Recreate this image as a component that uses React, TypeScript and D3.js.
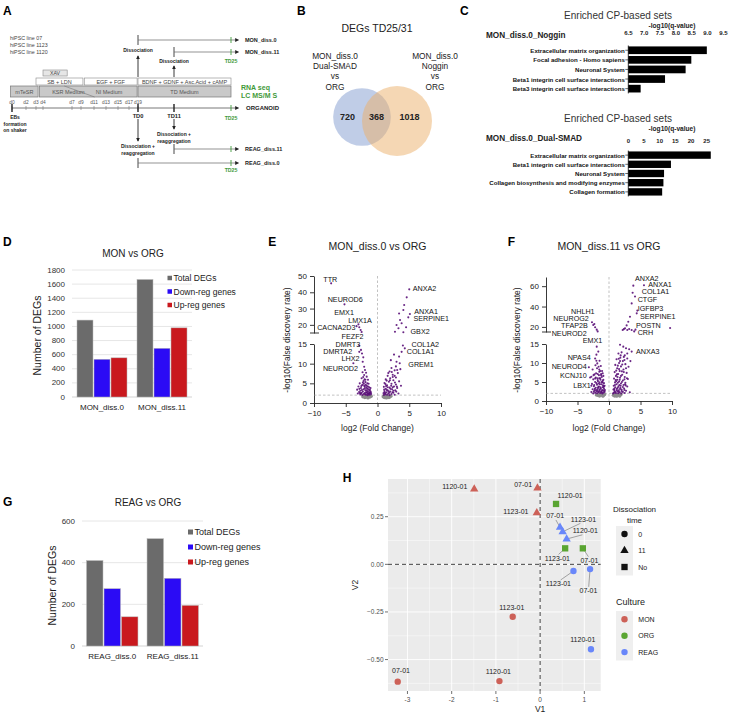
import React, { useEffect, useRef } from 'react';
import * as d3 from 'd3';

const FONT = '"Liberation Sans", Arial, Helvetica, sans-serif';

// ---------- A: protocol
const hipscLines = ['hiPSC line 07', 'hiPSC line 1123', 'hiPSC line 1120'];
const dayLabels = ['d0', 'd2', 'd3', 'd4', 'd7', 'd9', 'd11', 'd13', 'd15', 'd17', 'd19'];
const dayValues = [0, 2, 3, 4, 7, 9, 11, 13, 15, 17, 19];
const timeDomain = [0, 2, 3, 4, 7, 9, 11, 13, 15, 17, 19, 30, 44, 48];
const timeRange = [12, 26, 36, 43, 72, 81, 94, 106, 118, 129, 138, 174, 231, 241];
const mediaTop = [['SB + LDN', 3, 9.3], ['EGF + FGF', 9.5, 18.8], ['BDNF + GDNF + Asc.Acid + cAMP', 19, 44]];
const mediaBottom = [['mTeSR', -0.2, 3.3], ['', 3.5, 18.8], ['TD   Medium', 19, 44]];
const branchNames = ['MON_diss.0', 'MON_diss.11', 'REAG_diss.11', 'REAG_diss.0'];
const branchStart = [19, 30, 30, 19];
const branchRows = [40, 52, 149, 163];

// ---------- B: venn
const vennLeft = 720;
const vennBoth = 368;
const vennRight = 1018;

// ---------- C: enriched sets
const nogSets = ['Extracellular matrix organization', 'Focal adhesion - Homo sapiens', 'Neuronal System', 'Beta1 integrin cell surface interactions', 'Beta3 integrin cell surface interactions'];
const nogVals = [8.98, 8.49, 8.31, 7.66, 6.89];
const nogTicks = [6.5, 7, 7.5, 8, 8.5, 9, 9.5];
const dualSets = ['Extracellular matrix organization', 'Beta1 integrin cell surface interactions', 'Neuronal System', 'Collagen biosynthesis and modifying enzymes', 'Collagen formation'];
const dualVals = [26.3, 13.6, 11.4, 11.2, 10.8];
const dualTicks = [0, 5, 10, 15, 20, 25];

// ---------- D / G: DEG counts
const degSeries = ['Total DEGs', 'Down-reg genes', 'Up-reg genes'];
const degColors = ['#6b6b6b', '#2b0bf5', '#c9191e'];
const monGroups = ['MON_diss.0', 'MON_diss.11'];
const monTotal = [1090, 1665];
const monDown = [535, 690];
const monUp = [555, 980];
const monTicks = [0, 200, 400, 600, 800, 1000, 1200, 1400, 1600, 1800];
const reagGroups = ['REAG_diss.0', 'REAG_diss.11'];
const reagTotal = [410, 515];
const reagDown = [275, 325];
const reagUp = [140, 195];
const reagTicks = [0, 200, 400, 600];

// ---------- E: volcano MON_diss.0 vs ORG  [log2FC, -log10 FDR]
const eSig = [
  [-7.3, 45.5], [-5.2, 32.6], [-3.0, 20.3], [-2.87, 18.5], [-2.65, 16.8], [-2.5, 15.6], [-3.3, 19.2],
  [-2.87, 14.6], [-2.6, 13.5], [-2.87, 13.0], [-2.44, 12.6], [-2.24, 11.6], [-2.33, 10.5], [-3.8, 10.1], [-2.1, 9.2],
  [-1.97, 8.4], [-1.8, 7.7], [-2.1, 7.1], [-1.7, 6.7], [-2.5, 6.3], [-1.5, 5.9], [-2.2, 5.6], [-1.9, 5.3], [-2.8, 5.0],
  [-1.4, 4.9], [-2.4, 4.6], [-1.7, 4.4], [-3.0, 4.2], [-2.0, 4.1], [-1.3, 4.0], [-2.6, 3.8], [-1.6, 3.7], [-2.2, 3.5],
  [-3.2, 3.4], [-1.2, 3.4], [-1.9, 3.2], [-2.7, 3.1], [-1.5, 3.0], [-2.3, 2.9], [-1.1, 2.9], [-2.9, 2.8], [-1.8, 2.7],
  [-1.3, 2.6], [-2.5, 2.6], [-2.0, 2.5], [-1.6, 2.4], [-3.1, 2.4], [-1.0, 2.3], [-2.2, 2.3], [-1.4, 2.2], [-2.7, 2.2],
  [-1.8, 2.1], [-1.2, 2.1], [-2.4, 2.05], [-1.55, 2.0], [-2.05, 6.0], [-1.6, 5.0], [-2.35, 7.8], [-1.45, 3.5],
  [-1.15, 2.5], [-2.15, 4.9], [-1.75, 3.9],
  [-1.35, 2.45], [-1.65, 2.75], [-2.45, 3.3], [-1.05, 2.65], [-2.85, 3.6], [-1.85, 4.6], [-2.55, 4.3], [-1.25, 3.1],
  [-2.0, 3.7], [-1.5, 4.2], [-2.3, 5.2], [-1.95, 2.2], [-1.7, 3.2], [-2.6, 2.4], [-1.1, 3.8], [-2.1, 4.4], [-1.45, 2.35],
  [-2.75, 2.5], [-1.9, 5.9], [-2.25, 6.6],
  [5.0, 41.8], [4.6, 36.9], [4.2, 32.2], [4.07, 29.1], [5.1, 26.7], [4.85, 24.6], [3.55, 23.0], [3.8, 21.0], [3.0, 19.9],
  [3.3, 17.9], [2.75, 15.8], [4.07, 15.5], [4.5, 18.5], [3.4, 27.0],
  [4.0, 14.6], [4.3, 13.9], [3.8, 13.0], [3.4, 11.8], [3.0, 10.5], [3.5, 10.1], [2.6, 12.3], [2.9, 9.3], [2.2, 8.9],
  [2.7, 8.3], [1.9, 8.0], [3.2, 7.6], [2.4, 7.2], [1.6, 6.9], [2.9, 6.5], [2.0, 6.3], [1.3, 6.0], [2.5, 5.8], [3.4, 5.5],
  [1.8, 5.4], [1.1, 5.1], [2.2, 4.9], [2.9, 4.7], [1.5, 4.5], [2.6, 4.2], [1.0, 4.1], [1.9, 3.9], [3.1, 3.8], [1.3, 3.6],
  [2.3, 3.5], [1.6, 3.2], [2.8, 3.2], [1.1, 3.0], [2.0, 2.9], [1.4, 2.7], [2.5, 2.6], [0.95, 2.5], [1.7, 2.4], [2.2, 2.3],
  [1.2, 2.2], [3.3, 2.4], [1.5, 2.1], [2.7, 2.1], [1.0, 2.05], [1.9, 2.0], [2.1, 10.9], [1.7, 7.6], [3.6, 8.6], [2.4, 4.0],
  [3.7, 4.4], [1.25, 4.8], [2.75, 5.2],
  [1.45, 3.3], [2.05, 3.6], [1.15, 2.6], [2.35, 2.75], [1.75, 3.0], [2.95, 2.9], [1.05, 3.4], [1.6, 4.0], [2.15, 4.4],
  [1.35, 4.3], [2.5, 3.1], [1.85, 2.6], [3.05, 4.2], [1.95, 5.8], [2.4, 6.6], [1.45, 5.7], [2.7, 6.9], [2.25, 7.9],
  [3.1, 8.4], [1.2, 2.4],
];
const eNs = [
  [-2.3, 1.6], [-2.0, 1.4], [-1.8, 1.7], [-1.6, 1.5], [-1.4, 1.8], [-1.2, 1.5], [-1.0, 1.7], [-2.1, 1.8], [-1.5, 1.3], [-1.9, 1.5],
  [0.9, 1.6], [1.1, 1.4], [1.3, 1.7], [1.5, 1.5], [1.7, 1.8], [1.9, 1.5], [2.1, 1.7], [1.0, 1.8], [1.4, 1.3], [1.8, 1.4],
];
const eLabels = [
  ['TTR', -8.54, 47.9, 1], ['NEUROD6', -7.85, 35.7, 1], ['EMX1', -6.8, 27.5, 1], ['LMX1A', -4.6, 22.8, 1],
  ['CACNA2D3', -9.5, 18.3, 1], ['FEZF2', -5.65, 16.9, 0], ['DMRT3', -6.6, 15.0, 0], ['DMRTA2', -8.54, 13.05, 0],
  ['LHX2', -5.65, 11.4, 0], ['NEUROD2', -8.6, 8.8, 0], ['ANXA2', 5.55, 42.4, 1], ['ANXA1', 5.8, 28.2, 1],
  ['SERPINE1', 5.65, 23.6, 1], ['GBX2', 5.2, 15.8, 1], ['COL1A2', 5.35, 15.0, 0], ['COL1A1', 4.6, 13.1, 0],
  ['GREM1', 4.85, 9.9, 0],
];

// ---------- F: volcano MON_diss.11 vs ORG
const fSig = [
  [-2.5, 21.8], [-2.2, 19.6], [-2.33, 22.8], [-1.95, 17.3], [-2.7, 24.5], [-1.8, 15.6],
  [-1.95, 14.3], [-1.7, 13.0], [-2.2, 11.2], [-1.86, 9.9], [-2.6, 8.3], [-1.54, 7.7], [-2.0, 12.2], [-1.5, 10.6],
  [-2.3, 7.0], [-1.3, 9.2], [-1.9, 8.6], [-2.8, 6.4], [-1.1, 7.9], [-1.6, 6.8], [-2.1, 6.2], [-0.9, 6.6], [-1.4, 6.0],
  [-2.5, 5.7], [-1.8, 5.5], [-1.0, 5.3], [-2.2, 5.0], [-1.5, 4.9], [-0.8, 4.7], [-2.7, 4.5], [-1.2, 4.4], [-1.9, 4.3],
  [-0.7, 4.0], [-2.4, 3.9], [-1.6, 3.8], [-1.0, 3.6], [-2.1, 3.5], [-1.3, 3.3], [-0.8, 3.2], [-2.6, 3.1], [-1.8, 3.0],
  [-1.1, 2.9], [-2.3, 2.8], [-1.5, 2.7], [-0.75, 2.6], [-2.0, 2.5], [-1.25, 2.4], [-2.8, 2.35], [-1.7, 2.3], [-0.9, 2.2],
  [-2.2, 2.15], [-1.4, 2.1], [-1.9, 2.05], [-1.05, 2.0], [-2.5, 2.0], [-1.65, 4.6], [-1.35, 5.6], [-2.35, 4.2],
  [-0.95, 4.1], [-1.75, 3.4], [-1.15, 6.3], [-1.55, 8.3], [-2.05, 7.3], [-0.85, 3.7], [-1.45, 3.1], [-2.15, 9.4],
  [-1.25, 7.1], [-1.85, 6.0], [-0.65, 2.9], [-1.05, 4.9], [-2.45, 6.8], [-3.2, 8.9], [-3.0, 6.2], [-2.8, 4.0],
  [-1.2, 2.55], [-1.6, 2.45], [-2.05, 2.85], [-0.95, 2.75], [-1.35, 3.6], [-1.7, 3.65], [-2.25, 3.2], [-0.8, 3.9],
  [-1.45, 4.4], [-2.0, 4.7], [-1.15, 5.0], [-1.75, 5.2], [-0.9, 5.6], [-1.55, 6.0], [-2.2, 5.9], [-1.25, 6.8],
  [-1.8, 7.1], [-1.0, 7.3], [-1.65, 9.0], [-1.4, 7.9], [-2.0, 10.6], [-1.15, 2.25], [-1.8, 2.65], [-2.4, 2.5], [-0.7, 2.4],
  [3.86, 60.5], [5.55, 60.9], [4.13, 49.8], [3.6, 43.1], [4.4, 33.3], [3.33, 29.9], [3.06, 25.0], [2.54, 18.6],
  [2.17, 16.9], [2.9, 16.9], [3.6, 16.9], [4.0, 15.6], [9.7, 18.9], [3.75, 53.5], [4.5, 36.0], [2.8, 21.5], [3.2, 18.0],
  [2.35, 17.8], [4.2, 17.3],
  [1.75, 14.8], [2.27, 14.3], [2.7, 13.9], [3.2, 13.6], [3.6, 13.0], [2.0, 12.8], [1.5, 12.5], [2.5, 12.0], [1.8, 11.4],
  [2.9, 11.2], [1.2, 11.0], [2.2, 10.5], [1.6, 10.0], [2.6, 9.7], [1.0, 9.5], [1.9, 9.1], [3.1, 9.0], [1.3, 8.6],
  [2.3, 8.3], [1.7, 7.9], [0.9, 7.6], [2.8, 7.4], [1.45, 7.1], [2.1, 6.9], [1.1, 6.6], [2.5, 6.3], [1.75, 6.1], [0.8, 5.9],
  [3.0, 5.8], [1.3, 5.6], [2.2, 5.4], [1.6, 5.1], [0.95, 4.9], [2.6, 4.8], [1.9, 4.6], [1.2, 4.4], [2.3, 4.2], [0.75, 4.0],
  [1.5, 3.9], [2.9, 3.8], [1.0, 3.6], [1.8, 3.5], [2.4, 3.3], [1.25, 3.2], [0.7, 3.0], [2.0, 3.0], [1.55, 2.8], [2.7, 2.7],
  [0.9, 2.6], [1.35, 2.5], [2.2, 2.4], [1.7, 2.3], [0.8, 2.2], [3.3, 2.3], [1.1, 2.1], [2.5, 2.1], [1.45, 2.05], [1.95, 2.0],
  [0.65, 2.0], [2.05, 7.8], [1.4, 9.3], [2.45, 10.8], [1.15, 5.2], [1.65, 4.2], [2.85, 6.0], [1.85, 12.0], [0.85, 3.3],
  [1.35, 6.3], [3.4, 10.5], [2.65, 4.1],
  [1.0, 2.35], [1.55, 2.45], [2.0, 2.65], [1.25, 2.8], [2.45, 2.9], [0.85, 3.0], [1.75, 3.15], [2.2, 3.7], [1.4, 3.5],
  [0.95, 4.2], [1.85, 4.0], [2.55, 4.4], [1.4, 4.8], [2.05, 5.0], [1.05, 5.5], [1.7, 5.6], [2.45, 5.7], [1.25, 7.0],
  [1.9, 6.6], [2.35, 7.6], [1.6, 8.4], [2.7, 8.6], [1.15, 8.0], [2.1, 9.6], [1.75, 10.5], [2.35, 11.6], [1.55, 11.1],
  [2.9, 12.5],
];
const fNs = [
  [-1.8, 1.5], [-1.5, 1.3], [-1.2, 1.6], [-0.9, 1.4], [-0.7, 1.7], [-1.6, 1.8], [-1.0, 1.3], [-1.3, 1.8], [-2.0, 1.6],
  [0.7, 1.5], [0.9, 1.3], [1.1, 1.7], [1.3, 1.4], [1.5, 1.6], [1.7, 1.3], [1.9, 1.7], [0.8, 1.8], [1.2, 1.3], [1.6, 1.8],
];
const fLabels = [
  ['NHLH1', -6.03, 35.5, 1], ['NEUROG2', -8.84, 28.4, 1], ['TFAP2B', -7.6, 21.4, 1], ['NEUROD2', -9.1, 13.5, 1],
  ['EMX1', -4.17, 15.8, 0], ['NPAS4', -6.56, 11.5, 0], ['NEUROD4', -9.1, 9.0, 0], ['KCNJ10', -7.78, 6.66, 0],
  ['LBX1', -5.67, 4.2, 0], ['ANXA2', 4.13, 67.4, 1], ['ANXA1', 6.24, 61.8, 1], ['COL1A1', 5.19, 54.3, 1],
  ['CTGF', 4.55, 46.9, 1], ['IGFBP3', 4.55, 38.1, 1], ['SERPINE1', 4.92, 29.9, 1], ['POSTN', 4.29, 21.8, 1],
  ['CRH', 4.55, 14.3, 1], ['ANXA3', 4.29, 13.0, 0],
];

// ---------- H: MDS
const hCulture = ['MON', 'MON', 'MON', 'ORG', 'REAG', 'REAG', 'REAG', 'ORG', 'ORG', 'REAG', 'REAG', 'MON', 'REAG', 'MON', 'MON'];
const hDiss = ['11', '11', '11', 'No', '11', '11', '11', 'No', 'No', '0', '0', '0', '0', '0', '0'];
const hV1 = [-1.49, -0.06, -0.075, 0.36, 0.45, 0.51, 0.6, 0.566, 0.966, 0.754, 1.13, -0.62, 1.15, -0.92, -3.22];
const hV2 = [0.395, 0.4, 0.27, 0.317, 0.194, 0.171, 0.133, 0.084, 0.084, -0.035, -0.025, -0.275, -0.446, -0.613, -0.616];
const hName = ['1120-01', '07-01', '1123-01', '1120-01', '07-01', '1123-01', '1120-01', '1123-01', '07-01', '1123-01', '07-01', '1123-01', '1120-01', '1120-01', '07-01'];
const hLabV1 = [-1.93, -0.385, -0.547, 0.68, 0.34, 0.98, 1.02, 0.39, 1.115, 0.414, 1.093, -0.64, 0.966, -0.943, -3.145];
const hLabV2 = [0.407, 0.42, 0.276, 0.364, 0.254, 0.236, 0.176, 0.031, 0.019, -0.103, -0.139, -0.228, -0.394, -0.56, -0.555];
const hLeader = [0, 0, 0, 0, 1, 1, 1, 1, 1, 1, 1, 0, 0, 0, 0];
const cultures = ['MON', 'ORG', 'REAG'];
const cultureColors = ['#cd6158', '#5aa532', '#6987fa'];
const dissLevels = ['0', '11', 'No'];
const hXTicks = [-3, -2, -1, 0, 1];
const hXMinor = [-2.5, -1.5, -0.5, 0.5];
const hYTicks = [-0.5, -0.25, 0, 0.25];
const hYMinor = [-0.625, -0.375, -0.125, 0.125, 0.375];

function addText(g: any, x: number, y: number, s: string, o: any = {}) {
  const t = g.append('text')
    .attr('x', x)
    .attr('y', y)
    .attr('font-size', o.size ?? 6)
    .attr('font-family', FONT)
    .attr('text-anchor', o.anchor ?? 'start')
    .attr('dominant-baseline', 'central')
    .attr('fill', o.color ?? '#222')
    .text(s);
  if (o.bold) t.attr('font-weight', 'bold');
  if (o.rotate) t.attr('transform', `rotate(${o.rotate},${x},${y})`);
  return t;
}

function line(g: any, x1: number, y1: number, x2: number, y2: number, stroke = '#333', w = 0.8) {
  return g.append('line').attr('x1', x1).attr('y1', y1).attr('x2', x2).attr('y2', y2)
    .attr('stroke', stroke).attr('stroke-width', w);
}

function drawProtocol(g: any) {
  const xd = d3.scaleLinear().domain(timeDomain).range(timeRange);
  const green = '#3f9a3a';
  addText(g, 3, 11, 'A', { size: 12, bold: true, color: '#000' });
  hipscLines.forEach((s, i) => addText(g, 10, 38 + i * 7, s, { size: 5.3, color: '#444' }));

  // media boxes
  g.append('rect').attr('x', xd(4)).attr('y', 70).attr('width', xd(6.5) - xd(4)).attr('height', 6)
    .attr('fill', '#e6e6e6').attr('stroke', '#888').attr('stroke-width', 0.6);
  addText(g, (xd(4) + xd(6.5)) / 2, 73, 'XAV', { size: 5.2, anchor: 'middle', color: '#444' });
  mediaTop.forEach(([s, a, b]: any) => {
    g.append('rect').attr('x', xd(a)).attr('y', 78).attr('width', xd(b) - xd(a)).attr('height', 7)
      .attr('fill', '#fff').attr('stroke', '#888').attr('stroke-width', 0.6);
    addText(g, (xd(a) + xd(b)) / 2, 81.5, s, { size: 5.5, anchor: 'middle', color: '#444' });
  });
  mediaBottom.forEach(([s, a, b]: any) => {
    g.append('rect').attr('x', xd(a)).attr('y', 86).attr('width', xd(b) - xd(a)).attr('height', 11)
      .attr('fill', '#c9c9c9').attr('stroke', '#777').attr('stroke-width', 0.7);
    if (s) addText(g, (xd(a) + xd(b)) / 2, 91.5, s, { size: 5.5, anchor: 'middle', color: '#555' });
  });
  line(g, xd(6.2), 86, xd(11.1), 97, '#777', 0.6);
  addText(g, xd(7.3) - 5, 91.5, 'KSR Medium', { size: 5.5, anchor: 'middle', color: '#555' });
  addText(g, xd(13.5), 91.5, 'NI Medium', { size: 5.5, anchor: 'middle', color: '#555' });
  addText(g, 241, 87, 'RNA seq', { size: 7, bold: true, color: green });
  addText(g, 241, 95, 'LC MS/M S', { size: 7, bold: true, color: green });

  // timeline
  line(g, xd(0), 108, xd(47), 108, '#555', 0.8).attr('marker-end', 'url(#arr)');
  dayValues.forEach((d, i) => {
    line(g, xd(d), 106, xd(d), 110, '#777', 0.6);
    addText(g, xd(d), 102, dayLabels[i], { size: 4.8, anchor: 'middle', color: '#555' });
  });
  [0, 19, 30].forEach(d => line(g, xd(d), 104, xd(d), 112, '#222', 1.4));
  line(g, xd(44), 105, xd(44), 111, green, 0.9);
  addText(g, 246, 108, 'ORGANOID', { size: 6, bold: true });
  ['EBs', 'formation', 'on shaker'].forEach((s, i) => addText(g, 15, 117 + i * 6.5, s, { size: 5, bold: true, anchor: 'middle' }));
  addText(g, xd(19), 116, 'TD0', { size: 5.7, bold: true, anchor: 'middle' });
  addText(g, xd(30), 116, 'TD11', { size: 5.7, bold: true, anchor: 'middle' });
  addText(g, xd(44), 118, 'TD25', { size: 5.2, bold: true, anchor: 'middle', color: green });

  // dissociation arrows
  line(g, xd(19), 77, xd(19), 56, '#222', 0.9).attr('marker-end', 'url(#arr)');
  addText(g, xd(19), 50, 'Dissociation', { size: 5, bold: true, anchor: 'middle' });
  line(g, xd(30), 77, xd(30), 66, '#222', 0.9).attr('marker-end', 'url(#arr)');
  addText(g, xd(30), 61, 'Dissociation', { size: 5, bold: true, anchor: 'middle' });
  line(g, xd(30), 119, xd(30), 129, '#222', 0.9).attr('marker-end', 'url(#arr)');
  addText(g, xd(30), 134, 'Dissociation +', { size: 5, bold: true, anchor: 'middle' });
  addText(g, xd(30), 140.5, 'reaggregation', { size: 5, bold: true, anchor: 'middle' });
  line(g, xd(19), 119, xd(19), 141, '#222', 0.9).attr('marker-end', 'url(#arr)');
  addText(g, xd(19), 146, 'Dissociation +', { size: 5, bold: true, anchor: 'middle' });
  addText(g, xd(19), 152.5, 'reaggregation', { size: 5, bold: true, anchor: 'middle' });

  // branches
  branchNames.forEach((s, i) => {
    const y = branchRows[i];
    const x0 = xd(branchStart[i]);
    line(g, x0, y - 5, x0, y + 5, '#333', 0.9);
    line(g, x0, y, xd(47), y, '#666', 0.7).attr('marker-end', 'url(#arr)');
    line(g, xd(44), y - 3, xd(44), y + 3, green, 0.9);
    addText(g, 245, y, s, { size: 5.5, bold: true });
  });
  addText(g, xd(44), 61, 'TD25', { size: 5.2, bold: true, anchor: 'middle', color: green });
  addText(g, xd(44), 170, 'TD25', { size: 5.2, bold: true, anchor: 'middle', color: green });
}

function drawVenn(g: any) {
  addText(g, 297, 11, 'B', { size: 12, bold: true, color: '#000' });
  addText(g, 377, 28, 'DEGs TD25/31', { size: 10.5, anchor: 'middle' });
  ['MON_diss.0', 'Dual-SMAD', 'vs', 'ORG'].forEach((s, i) => addText(g, 335, 55.5 + i * 10.4, s, { size: 8.3, anchor: 'middle' }));
  ['MON_diss.0', 'Noggin', 'vs', 'ORG'].forEach((s, i) => addText(g, 435, 55.5 + i * 10.4, s, { size: 8.3, anchor: 'middle' }));
  const r = d3.scaleSqrt().domain([0, vennBoth + vennRight]).range([0, 35]);
  const rl = r(vennLeft + vennBoth) * 0.93;
  const rr = r(vennBoth + vennRight);
  const cl = [362, 117];
  const cr = [397, 121];
  g.append('circle').attr('cx', cl[0]).attr('cy', cl[1]).attr('r', rl).attr('fill', '#7391c9').attr('opacity', 0.45);
  g.append('circle').attr('cx', cr[0]).attr('cy', cr[1]).attr('r', rr).attr('fill', '#ebaf69').attr('opacity', 0.5);
  const yc = 117;
  addText(g, (cl[0] - rl + cr[0] - rr) / 2, yc, String(vennLeft), { size: 9, bold: true, anchor: 'middle' });
  addText(g, (cr[0] - rr + cl[0] + rl) / 2, yc, String(vennBoth), { size: 9, bold: true, anchor: 'middle' });
  addText(g, (cl[0] + rl + cr[0] + rr) / 2 - 2, yc, String(vennRight), { size: 9, bold: true, anchor: 'middle' });
}

function drawCP(g: any, c: any) {
  const x = d3.scaleLinear().domain([c.ticks[0], c.ticks[c.ticks.length - 1]]).range(c.xr);
  const y = d3.scaleBand().domain(c.sets).range(c.br).padding(0.2);
  addText(g, 618, c.titleY, 'Enriched CP-based sets', { size: 10, anchor: 'middle', color: '#333' });
  addText(g, 672, c.titleY + 10, '-log10(q-value)', { size: 6.6, bold: true, anchor: 'middle' });
  addText(g, 486, c.titleY + 20, c.name, { size: 8.2, bold: true });
  c.ticks.forEach((t: number) => addText(g, x(t), c.tickY, c.fmt(t), { size: 6, bold: true, anchor: 'middle' }));
  g.selectAll(null).data(c.sets).join('rect')
    .attr('x', x(c.ticks[0]))
    .attr('y', (d: string) => y(d))
    .attr('width', (d: string, i: number) => x(c.vals[i]) - x(c.ticks[0]))
    .attr('height', y.bandwidth())
    .attr('fill', '#000');
  line(g, c.xr[0], c.br[0] + 1, c.xr[0], c.br[1] - 1, '#000', 0.8);
  c.sets.forEach((s: string) => {
    const yy = (y(s) as number) + y.bandwidth() / 2;
    line(g, c.xr[0] - 3, yy, c.xr[0], yy, '#000', 0.6);
    addText(g, c.xr[0] - 3.5, yy, s, { size: 6.1, bold: true, anchor: 'end', color: '#111' });
  });
}

function drawBars(g: any, c: any) {
  const x0 = d3.scaleBand().domain(c.groups).range(c.xr).paddingInner(c.pad).paddingOuter(c.pad / 2);
  const x1 = d3.scaleBand().domain(degSeries).range([0, x0.bandwidth()]).paddingInner(0.06);
  const y = d3.scaleLinear().domain([0, c.ticks[c.ticks.length - 1]]).range(c.yr);
  addText(g, 3, c.letterY, c.letter, { size: 12, bold: true, color: '#000' });
  addText(g, c.titleX, c.titleY, c.title, { size: 10, anchor: 'middle', color: '#222' });
  c.ticks.forEach((t: number) => {
    line(g, c.xr[0], y(t), c.xr[1], y(t), t === 0 ? '#c8c8c8' : '#e0e0e0', 0.8);
    addText(g, c.xr[0] - 7, y(t), String(t), { size: 8, anchor: 'end', color: '#333' });
  });
  addText(g, c.ytX, (c.yr[0] + c.yr[1]) / 2 + 2, 'Number of DEGs', { size: 10.5, anchor: 'middle', rotate: -90, color: '#222' });
  c.groups.forEach((grp: string, gi: number) => {
    degSeries.forEach((s, si) => {
      const v = c.values[si][gi];
      g.append('rect')
        .attr('x', (x0(grp) as number) + (x1(s) as number))
        .attr('y', y(v))
        .attr('width', x1.bandwidth())
        .attr('height', y(0) - y(v))
        .attr('fill', degColors[si])
        .attr('stroke', '#b5b5b5')
        .attr('stroke-width', 0.5);
    });
    addText(g, (x0(grp) as number) + x0.bandwidth() / 2, c.yr[0] + 10, grp, { size: 8, anchor: 'middle', color: '#222' });
  });
  degSeries.forEach((s, i) => {
    const yy = c.legY + i * c.legDy;
    g.append('rect').attr('x', c.legX).attr('y', yy - c.legSq / 2).attr('width', c.legSq).attr('height', c.legSq).attr('fill', degColors[i]);
    addText(g, c.legX + c.legSq + 1.5, yy, s, { size: c.legSize, color: '#222' });
  });
}

function drawVolcano(g: any, c: any) {
  const x = d3.scaleLinear().domain([-10, 10]).range(c.xr);
  const yLo = d3.scaleLinear().domain([0, 15]).range(c.lo);
  const yHi = d3.scaleLinear().domain([15, c.hiMax]).range(c.hi);
  const y = (v: number, hi?: number) => ((hi === undefined ? v > 15 : hi === 1) ? yHi(v) : yLo(v));
  const ax = c.xr[0];
  addText(g, c.letterX, 241.7, c.letter, { size: 12, bold: true, color: '#000' });
  addText(g, x(0), 246, c.title, { size: 10.5, anchor: 'middle', color: '#222' });

  const styleAxis = (a: any) => {
    a.attr('font-family', FONT).attr('font-size', 8);
    a.selectAll('path,line').attr('stroke', '#222').attr('stroke-width', 0.9);
    a.selectAll('text').attr('fill', '#222');
  };
  g.append('g').attr('transform', `translate(${ax},0)`)
    .call(d3.axisLeft(yLo).tickValues([0, 5, 10, 15]).tickSize(4).tickSizeOuter(0)).call(styleAxis);
  g.append('g').attr('transform', `translate(${ax},0)`)
    .call(d3.axisLeft(yHi).tickValues(c.hiTicks).tickSize(4).tickSizeOuter(0)).call(styleAxis);
  line(g, ax - 4, yHi(15), ax + 5, yHi(15), '#222', 0.9);
  g.append('g').attr('transform', `translate(0,${c.lo[0]})`)
    .call(d3.axisBottom(x).tickValues([-10, -5, 0, 5, 10]).tickSize(4).tickSizeOuter(0)).call(styleAxis);

  line(g, x(0), c.hi[1], x(0), c.lo[0], '#999', 0.6).attr('stroke-dasharray', '2.5,2');
  line(g, x(-10), yLo(2), x(10), yLo(2), '#999', 0.6).attr('stroke-dasharray', '2.5,2');

  g.append('g').selectAll('circle').data(c.ns).join('circle')
    .attr('cx', (d: number[]) => x(d[0])).attr('cy', (d: number[]) => y(d[1]))
    .attr('r', 1.7).attr('fill', '#8c8c8c');
  g.append('g').selectAll('circle').data(c.sig).join('circle')
    .attr('cx', (d: number[]) => x(d[0])).attr('cy', (d: number[]) => y(d[1]))
    .attr('r', 1.05).attr('fill', '#5a0f78').attr('opacity', 0.9);

  c.labels.forEach(([s, lx, ly, hi]: any) => addText(g, x(lx), y(ly, hi), s, { size: 7.2, color: '#111' }));

  addText(g, c.ytX, 340, '-log10(False discovery rate)', { size: 8.5, anchor: 'middle', rotate: -90, color: '#222' });
  addText(g, x(0), 428, 'log2 (Fold Change)', { size: 8.5, anchor: 'middle', color: '#222' });
}

function drawMDS(g: any) {
  const x = d3.scaleLinear().domain([-3.44, 1.37]).range([388, 600.7]);
  const y = d3.scaleLinear().domain([-0.665, 0.448]).range([691, 479]);
  const color = d3.scaleOrdinal<string, string>().domain(cultures).range(cultureColors);
  const shape = d3.scaleOrdinal<string, any>().domain(dissLevels).range([d3.symbolCircle, d3.symbolTriangle, d3.symbolSquare]);
  const size = d3.scaleOrdinal<string, number>().domain(dissLevels).range([32, 30, 40]);

  addText(g, 342.7, 478.3, 'H', { size: 12, bold: true, color: '#000' });
  g.append('rect').attr('x', 388).attr('y', 479).attr('width', 212.7).attr('height', 212).attr('fill', '#ebebeb');
  hXMinor.forEach(v => line(g, x(v), 479, x(v), 691, '#fff', 0.45));
  hYMinor.forEach(v => line(g, 388, y(v), 600.7, y(v), '#fff', 0.45));
  hXTicks.forEach(v => line(g, x(v), 479, x(v), 691, '#fff', 0.9));
  hYTicks.forEach(v => line(g, 388, y(v), 600.7, y(v), '#fff', 0.9));
  line(g, x(0), 479, x(0), 691, '#111', 0.8).attr('stroke-dasharray', '4,3');
  line(g, 388, y(0), 600.7, y(0), '#111', 0.8).attr('stroke-dasharray', '4,3');

  hXTicks.forEach(v => {
    line(g, x(v), 691, x(v), 694, '#333', 0.7);
    addText(g, x(v), 699.5, String(v), { size: 6.5, anchor: 'middle', color: '#4d4d4d' });
  });
  const f2 = d3.format('.2f');
  hYTicks.forEach(v => {
    line(g, 385, y(v), 388, y(v), '#333', 0.7);
    addText(g, 383.5, y(v), f2(v), { size: 6.5, anchor: 'end', color: '#4d4d4d' });
  });
  addText(g, x(0), 709, 'V1', { size: 8.5, anchor: 'middle', color: '#222' });
  addText(g, 355, 585, 'V2', { size: 8.5, anchor: 'middle', rotate: -90, color: '#222' });

  hV1.forEach((v, i) => {
    const px = x(v);
    const py = y(hV2[i]);
    const lx = x(hLabV1[i]);
    const ly = y(hLabV2[i]);
    if (hLeader[i]) {
      const dy = py > ly ? 4 : -4;
      line(g, lx + (px - lx) * 0.15, ly + dy, px, py, '#555', 0.5);
    }
  });
  hV1.forEach((v, i) => {
    g.append('path')
      .attr('d', d3.symbol().type(shape(hDiss[i])).size(size(hDiss[i]))())
      .attr('transform', `translate(${x(v)},${y(hV2[i])})`)
      .attr('fill', color(hCulture[i]));
  });
  hV1.forEach((v, i) => addText(g, x(hLabV1[i]), y(hLabV2[i]), hName[i], { size: 7, anchor: 'middle', color: '#222' }));

  // legends
  addText(g, 634.5, 509, 'Dissociation', { size: 8, anchor: 'middle', color: '#222' });
  addText(g, 634.5, 520, 'time', { size: 8, anchor: 'middle', color: '#222' });
  g.append('rect').attr('x', 616).attr('y', 526).attr('width', 17).attr('height', 49.5).attr('fill', '#efefef');
  dissLevels.forEach((d, i) => {
    const yy = 534 + i * 16.5;
    g.append('path').attr('d', d3.symbol().type(shape(d)).size(size(d))()).attr('transform', `translate(624.5,${yy})`).attr('fill', '#111');
    addText(g, 638.3, yy, d, { size: 7, color: '#222' });
  });
  addText(g, 616, 601.5, 'Culture', { size: 9, color: '#222' });
  g.append('rect').attr('x', 616).attr('y', 611).attr('width', 17).attr('height', 49.5).attr('fill', '#efefef');
  cultures.forEach((cu, i) => {
    const yy = 619.3 + i * 16.4;
    g.append('circle').attr('cx', 624.5).attr('cy', yy).attr('r', 3.2).attr('fill', color(cu));
    addText(g, 638.3, yy, cu, { size: 7, color: '#222' });
  });
}

export default function App() {
  const svgRef = useRef<SVGSVGElement>(null);

  useEffect(() => {
    const svg = d3.select(svgRef.current);
    svg.selectAll('*').remove();

    const defs = svg.append('defs');
    defs.append('marker').attr('id', 'arr').attr('viewBox', '0 0 6 6').attr('refX', 5).attr('refY', 3)
      .attr('markerWidth', 4).attr('markerHeight', 4).attr('markerUnits', 'userSpaceOnUse').attr('orient', 'auto')
      .append('path').attr('d', 'M0,0L6,3L0,6Z').attr('fill', '#222');

    drawProtocol(svg.append('g'));
    drawVenn(svg.append('g'));
    addText(svg, 460, 11, 'C', { size: 12, bold: true, color: '#000' });
    drawCP(svg.append('g'), {
      sets: nogSets, vals: nogVals, ticks: nogTicks, fmt: d3.format('.1f'),
      xr: [628.3, 723.3], br: [44.5, 94.4], titleY: 15, tickY: 33, name: 'MON_diss.0_Noggin',
    });
    drawCP(svg.append('g'), {
      sets: dualSets, vals: dualVals, ticks: dualTicks, fmt: d3.format('d'),
      xr: [628.3, 706.7], br: [149.6, 197.4], titleY: 118, tickY: 141, name: 'MON_diss.0_Dual-SMAD',
    });

    drawBars(svg.append('g'), {
      groups: monGroups, values: [monTotal, monDown, monUp], ticks: monTicks,
      xr: [72, 192], yr: [397, 270], pad: 1 / 6, letter: 'D', letterY: 241.7,
      title: 'MON vs ORG', titleX: 133, titleY: 253, ytX: 37,
      legX: 167.5, legY: 278, legDy: 13.5, legSq: 4.5, legSize: 8.5,
    });
    drawBars(svg.append('g'), {
      groups: reagGroups, values: [reagTotal, reagDown, reagUp], ticks: reagTicks,
      xr: [82, 203], yr: [646, 521], pad: 0.15, letter: 'G', letterY: 501.7,
      title: 'REAG vs ORG', titleX: 148, titleY: 502, ytX: 52,
      legX: 188, legY: 532, legDy: 15, legSq: 5, legSize: 9,
    });

    drawVolcano(svg.append('g'), {
      letter: 'E', letterX: 268.3, title: 'MON_diss.0 vs ORG',
      xr: [314, 441], lo: [403, 344], hi: [333, 276], hiMax: 50, hiTicks: [20, 30, 40, 50],
      sig: eSig, ns: eNs, labels: eLabels, ytX: 287,
    });
    drawVolcano(svg.append('g'), {
      letter: 'F', letterX: 507.7, title: 'MON_diss.11 vs ORG',
      xr: [546, 672], lo: [401, 344], hi: [332, 277], hiMax: 69, hiTicks: [20, 40, 60],
      sig: fSig, ns: fNs, labels: fLabels, ytX: 517,
    });

    drawMDS(svg.append('g'));
  }, []);

  return (
    <svg
      ref={svgRef}
      width={730}
      height={716}
      style={{ position: 'absolute', left: 0, top: 0, background: '#fff', fontFamily: FONT }}
    />
  );
}
